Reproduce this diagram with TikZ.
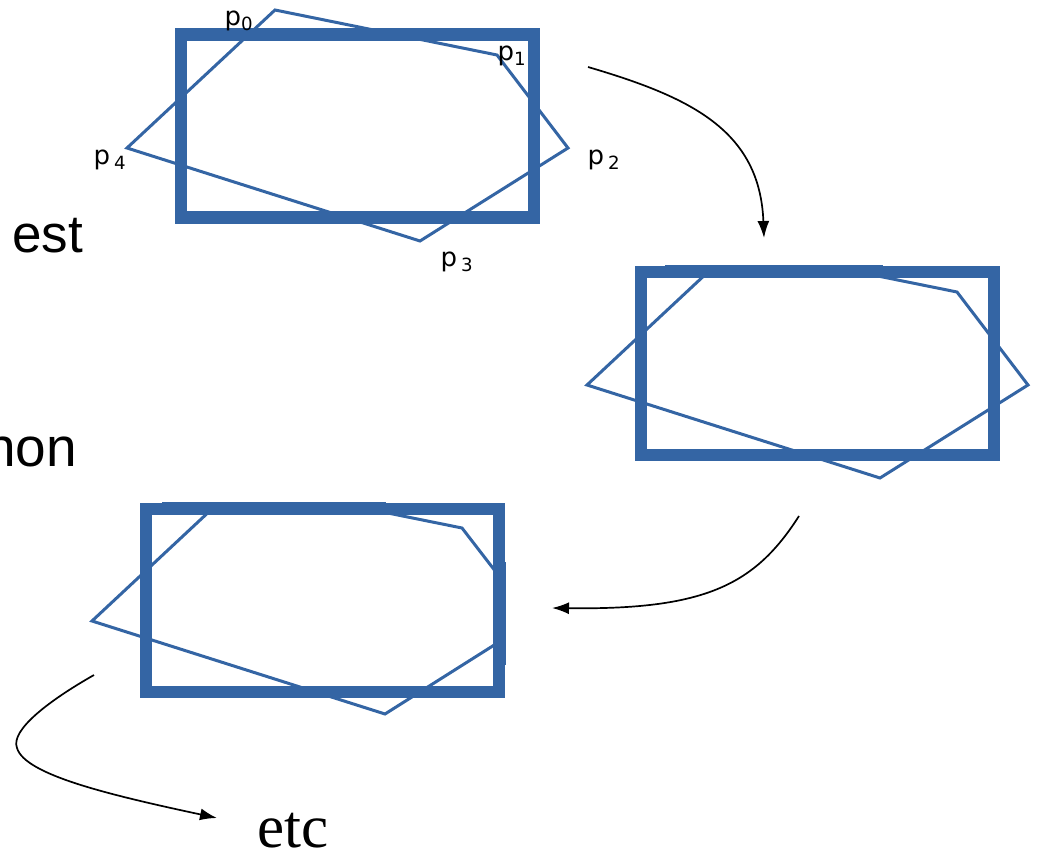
\documentclass[tikz,border=0pt]{standalone}
\usepackage{fontspec}
\setmainfont{Liberation Sans}
\newfontfamily\vertexfont{DejaVu Sans}
\newfontfamily\etcfont{Liberation Serif}
\usepackage{tikz}
\usetikzlibrary{arrows.meta}
\definecolor{clipblue}{HTML}{3465A4}

\begin{document}
\begin{tikzpicture}[x=1pt, y=-1pt,
    window/.style={draw=clipblue, line width=12.5pt, minimum width=353pt, minimum height=183pt, inner sep=0pt},
    poly/.style={draw=clipblue, line width=3pt},
    vertex/.style={font=\vertexfont\fontsize{26}{28}\selectfont, inner sep=0pt},
    flow/.style={-{Latex[length=17pt, width=12pt]}, line width=1.7pt}]
    \useasboundingbox (0,0) rectangle (1037,850);
    \clip (0,0) rectangle (1037,850);

    % Polygon corners, one copy per step
    \foreach \i/\x/\y in {0/275/10, 1/497/55, 2/568/148, 3/420/241, 4/127/148} {
        \coordinate (Poly1-\i) at (\x,\y);
        \coordinate (Poly2-\i) at (\x+460,\y+237);
        \coordinate (Poly3-\i) at (\x-35,\y+473);
    }

    % Step 1: polygon and window
    \draw[poly] (Poly1-0) -- (Poly1-1) -- (Poly1-2) -- (Poly1-3) -- (Poly1-4) -- cycle;
    \node[window] (Win1) at (357.5,126) {};
    \node[vertex] (Label-0) at (239,21) {p\textsubscript{0}};
    \node[vertex] (Label-1) at (512,56) {p\textsubscript{1}};
    \node[vertex] (Label-2) at (604,160) {p\hspace{4pt}\textsubscript{2}};
    \node[vertex] (Label-3) at (457,262) {p\hspace{4pt}\textsubscript{3}};
    \node[vertex] (Label-4) at (110,160) {p\hspace{4pt}\textsubscript{4}};

    % Step 2: cut by the top edge
    \coordinate (Cut2-a) at (708,272);
    \coordinate (Cut2-b) at (858,272);
    \draw[poly] (Poly2-4) -- (Cut2-a) -- (Cut2-b) -- (Poly2-1) -- (Poly2-2) -- (Poly2-3) -- cycle;
    \draw[poly] (665,267) -- (883,267);
    \node[window] (Win2) at (817.5,363.5) {};

    % Step 3: cut by the top and right edges
    \coordinate (Cut3-a) at (213,508);
    \coordinate (Cut3-b) at (363,508);
    \coordinate (Cut3-c) at (499,576);
    \coordinate (Cut3-d) at (499,642);
    \draw[poly] (Poly3-4) -- (Cut3-a) -- (Cut3-b) -- (Poly3-1) -- (Cut3-c) -- (Cut3-d) -- (Poly3-3) -- cycle;
    \draw[poly] (162,503) -- (386,503);
    \draw[poly] (504,562) -- (504,665);
    \node[window] (Win3) at (322.5,600.5) {};

    % Side words
    \node[anchor=base west, font=\fontsize{53}{60}\selectfont, inner sep=0pt] (Est) at (12,253) {est};
    \node[anchor=base east, font=\fontsize{55}{60}\selectfont, inner sep=0pt] (Hon) at (77,466) {hon};
    \node[anchor=base west, font=\etcfont\fontsize{61}{64}\selectfont, inner sep=0pt] (Etc) at (257,847) {etc};

    % Arrows between steps
    \coordinate (Flow1-s) at (588,67);
    \coordinate (Flow1-e) at (764,238);
    \coordinate (Flow2-s) at (799,516);
    \coordinate (Flow2-e) at (552,608);
    \coordinate (Flow3-s) at (94,675);
    \coordinate (Flow3-e) at (217,818);
    \draw[flow] (Flow1-s) .. controls (690,97) and (760,130) .. (Flow1-e);
    \draw[flow] (Flow2-s) .. controls (755,585) and (705,610) .. (Flow2-e);
    \draw[flow] (Flow3-s) .. controls (50,700) and (10,730) .. (17,748)
        .. controls (25,775) and (110,795) .. (Flow3-e);
\end{tikzpicture}
\end{document}
